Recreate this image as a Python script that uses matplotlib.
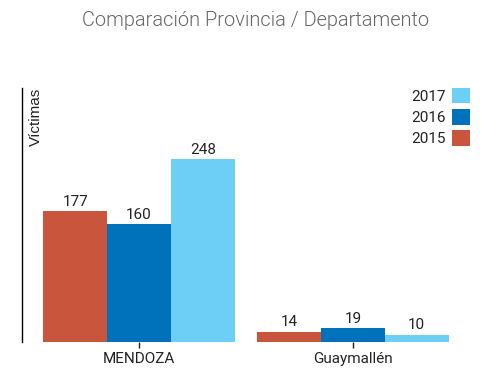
import matplotlib.pyplot as plt
from matplotlib.font_manager import FontProperties
import numpy as np

# datos
categorias = ['MENDOZA', 'Guaymallén']
anios = ['2015', '2016', '2017']
v2015 = [177, 14]
v2016 = [160, 19]
v2017 = [248, 10]
colores = ['#c9553c', '#0071bb', '#6dcff6']

rdir = '/usr/share/fonts/truetype/roboto/unhinted/RobotoTTF/'
fp = FontProperties(fname=rdir + 'Roboto-Regular.ttf', size=11)
fp_t = FontProperties(fname=rdir + 'Roboto-Light.ttf', size=14.4)

fig = plt.figure(figsize=(4.88, 3.79), dpi=100)
ax = fig.add_axes([22 / 488, 1 - 342 / 379, (470 - 22) / 488, (342 - 88) / 379])

x = np.arange(len(categorias))
w = 0.298
series = [v2015, v2016, v2017]
handles = []
for i, (vals, c) in enumerate(zip(series, colores)):
    pos = x + (i - 1) * w
    b = ax.bar(pos, vals, w, color=c, label=anios[i])
    handles.append(b)
    for p, v in zip(pos, vals):
        ax.text(p, v + 3, str(v), ha='center', va='bottom',
                fontproperties=fp, color='#222222')

ax.set_xlim(-0.547, 1.547)
ax.set_ylim(0, 344)
ax.set_xticks(x)
ax.set_xticklabels(categorias, fontproperties=fp, color='#222222')
ax.tick_params(axis='x', length=4, width=1, color='#222222', pad=3)
ax.set_yticks([])
for s in ['top', 'right', 'bottom']:
    ax.spines[s].set_visible(False)
ax.spines['left'].set_color('black')
ax.spines['left'].set_linewidth(1)

ax.text(0.016, 1.0, 'Víctimas', rotation=90, ha='left', va='top',
        transform=ax.transAxes, family='Liberation Sans', fontsize=11, color='#222222')

leg = ax.legend(handles[::-1], anios[::-1], loc='upper right', frameon=False,
                markerfirst=False, handlelength=1.18, handleheight=1.18,
                handletextpad=0.4, labelspacing=0.35, borderaxespad=0.0,
                borderpad=0.0, bbox_to_anchor=(1.0, 1.0), prop=fp)
for t in leg.get_texts():
    t.set_color('#222222')

fig.text(256 / 488, 1 - 20 / 379, 'Comparación Provincia / Departamento', ha='center', va='center',
         fontproperties=fp_t, color='#666666')

plt.savefig('out.png', dpi=100)
